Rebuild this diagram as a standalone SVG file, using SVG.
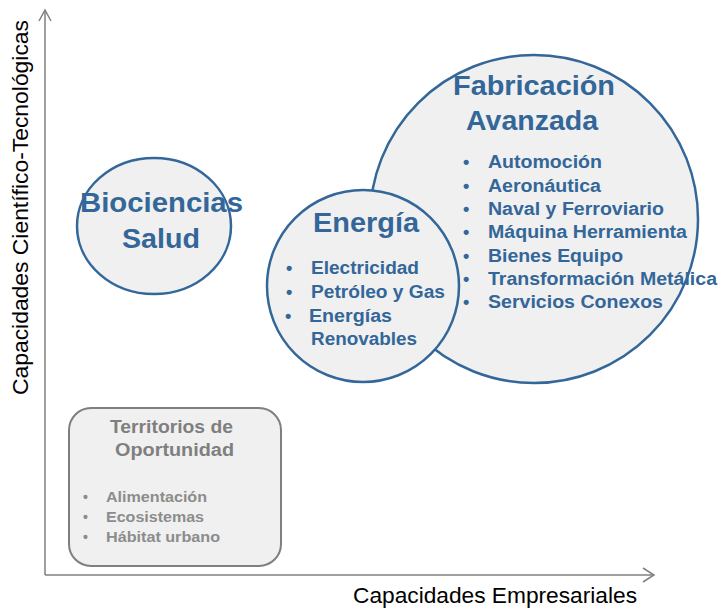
<svg xmlns="http://www.w3.org/2000/svg" width="718" height="611" viewBox="0 0 718 611">
<style>
.axis{stroke:#808080;stroke-width:1.5;fill:none}
.bub{fill:#f0f0f0;stroke:#336699;stroke-width:2.5}
.ttl{font-family:"Liberation Sans",Arial,sans-serif;font-weight:bold;fill:#336699;font-size:27px}
.itm{font-family:"Liberation Sans",Arial,sans-serif;font-weight:bold;fill:#336699;font-size:18px}
.gttl{font-family:"Liberation Sans",Arial,sans-serif;font-weight:bold;fill:#7f7f7f;font-size:18px}
.gitm{font-family:"Liberation Sans",Arial,sans-serif;font-weight:bold;fill:#8c8c8c;font-size:14px}
.lbl{font-family:"Liberation Sans",Arial,sans-serif;fill:#000;font-size:22px}
</style>
<rect width="718" height="611" fill="#ffffff"/>
<g id="axes">
<line class="axis" x1="45" y1="575" x2="45" y2="11"/>
<polyline class="axis" points="39,21 45,10 51,21"/>
<line class="axis" x1="45" y1="575" x2="653" y2="575"/>
<polyline class="axis" points="643,568 654,575 643,582"/>
<text class="lbl" transform="translate(28,395) rotate(-90)" textLength="375" lengthAdjust="spacingAndGlyphs">Capacidades Científico-Tecnológicas</text>
<text class="lbl" x="353" y="603" textLength="284" lengthAdjust="spacingAndGlyphs">Capacidades Empresariales</text>
</g>
<g id="biociencias">
<ellipse class="bub" cx="154" cy="226" rx="77" ry="68"/>
<text class="ttl" x="80" y="212" textLength="163" lengthAdjust="spacingAndGlyphs">Biociencias</text>
<text class="ttl" x="122" y="248" textLength="78" lengthAdjust="spacingAndGlyphs">Salud</text>
</g>
<g id="fabricacion">
<circle class="bub" cx="534" cy="219" r="164"/>
<text class="ttl" x="453" y="95" textLength="162" lengthAdjust="spacingAndGlyphs">Fabricación</text>
<text class="ttl" x="466" y="130" textLength="132" lengthAdjust="spacingAndGlyphs">Avanzada</text>
<g class="itm">
<text x="463" y="168">•</text><text x="488" y="168" textLength="114" lengthAdjust="spacingAndGlyphs">Automoción</text>
<text x="463" y="192">•</text><text x="488" y="192" textLength="113" lengthAdjust="spacingAndGlyphs">Aeronáutica</text>
<text x="463" y="215">•</text><text x="488" y="215" textLength="176" lengthAdjust="spacingAndGlyphs">Naval y Ferroviario</text>
<text x="463" y="238">•</text><text x="488" y="238" textLength="199" lengthAdjust="spacingAndGlyphs">Máquina Herramienta</text>
<text x="463" y="262">•</text><text x="488" y="262" textLength="135" lengthAdjust="spacingAndGlyphs">Bienes Equipo</text>
<text x="463" y="285">•</text><text x="488" y="285" textLength="229" lengthAdjust="spacingAndGlyphs">Transformación Metálica</text>
<text x="463" y="308">•</text><text x="488" y="308" textLength="175" lengthAdjust="spacingAndGlyphs">Servicios Conexos</text>
</g>
</g>
<g id="energia">
<circle class="bub" cx="363" cy="286" r="96"/>
<text class="ttl" x="313" y="232" textLength="106" lengthAdjust="spacingAndGlyphs">Energía</text>
<g class="itm">
<text x="286" y="274">•</text><text x="311" y="274" textLength="108" lengthAdjust="spacingAndGlyphs">Electricidad</text>
<text x="286" y="298">•</text><text x="311" y="298" textLength="134" lengthAdjust="spacingAndGlyphs">Petróleo y Gas</text>
<text x="285" y="322">•</text><text x="309" y="322" textLength="83" lengthAdjust="spacingAndGlyphs">Energías</text>
<text x="311" y="345" textLength="106" lengthAdjust="spacingAndGlyphs">Renovables</text>
</g>
</g>
<g id="territorios">
<rect x="69" y="408" width="212" height="158" rx="22" ry="22" fill="#f0f0f0" stroke="#7f7f7f" stroke-width="2"/>
<text class="gttl" x="110" y="433" textLength="123" lengthAdjust="spacingAndGlyphs">Territorios de</text>
<text class="gttl" x="115" y="456" textLength="119" lengthAdjust="spacingAndGlyphs">Oportunidad</text>
<g class="gitm">
<text x="83" y="502">•</text><text x="106" y="502" textLength="101" lengthAdjust="spacingAndGlyphs">Alimentación</text>
<text x="83" y="522">•</text><text x="106" y="522" textLength="98" lengthAdjust="spacingAndGlyphs">Ecosistemas</text>
<text x="83" y="542">•</text><text x="106" y="542" textLength="114" lengthAdjust="spacingAndGlyphs">Hábitat urbano</text>
</g>
</g>
</svg>
